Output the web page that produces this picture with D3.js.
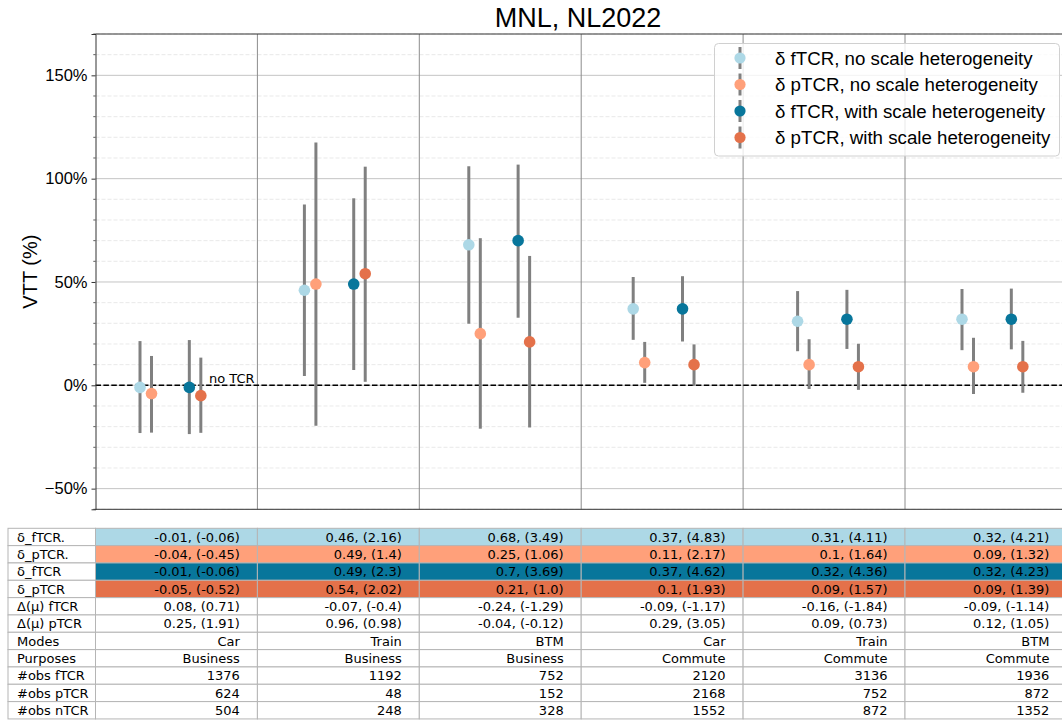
<!DOCTYPE html>
<html>
<head>
<meta charset="utf-8">
<script src="https://cdn.jsdelivr.net/npm/d3@7"></script>
<style>
  body { margin: 0; background: #fff; }
  svg { display: block; }
</style>
</head>
<body>
<svg id="chart" width="1062" height="720"></svg>
<script>
// ---- data ---------------------------------------------------------------
const modes    = ["Car", "Train", "BTM", "Car", "Train", "BTM"];
const purposes = ["Business", "Business", "Business", "Commute", "Commute", "Commute"];

const seriesNames = [
  "δ fTCR, no scale heterogeneity",
  "δ pTCR, no scale heterogeneity",
  "δ fTCR, with scale heterogeneity",
  "δ pTCR, with scale heterogeneity"
];
const seriesColors = ["#add8e6", "#ffa07a", "#08769b", "#e4714a"];
const seriesOffsets = [0, 0.07, 0.3, 0.37];

// estimates and t-values
const deltaFNo   = [-0.01, 0.46, 0.68, 0.37, 0.31, 0.32];
const tFNo       = [-0.06, 2.16, 3.49, 4.83, 4.11, 4.21];
const deltaPNo   = [-0.04, 0.49, 0.25, 0.11, 0.1, 0.09];
const tPNo       = [-0.45, 1.4, 1.06, 2.17, 1.64, 1.32];
const deltaFWith = [-0.01, 0.49, 0.7, 0.37, 0.32, 0.32];
const tFWith     = [-0.06, 2.3, 3.69, 4.62, 4.36, 4.23];
const deltaPWith = [-0.05, 0.54, 0.21, 0.1, 0.09, 0.09];
const tPWith     = [-0.52, 2.02, 1.0, 1.93, 1.57, 1.39];
const dMuF = [0.08, -0.07, -0.24, -0.09, -0.16, -0.09];
const tMuF = [0.71, -0.4, -1.29, -1.17, -1.84, -1.14];
const dMuP = [0.25, 0.96, -0.04, 0.29, 0.09, 0.12];
const tMuP = [1.91, 0.98, -0.12, 3.05, 0.73, 1.05];
const obsF = [1376, 1192, 752, 2120, 3136, 1936];
const obsP = [624, 48, 152, 2168, 752, 872];
const obsN = [504, 248, 328, 1552, 872, 1352];

// 95% interval bounds, in %
const lowFNo    = [-23.1, 4.5, 29.8, 22.0, 16.5, 17.0];
const highFNo   = [21.4, 87.5, 106.0, 52.4, 45.6, 46.6];
const lowPNo    = [-22.9, -19.6, -21.0, 1.2, -1.8, -4.2];
const highPNo   = [14.2, 117.5, 71.2, 21.0, 22.3, 23.0];
const lowFWith  = [-23.6, 7.4, 32.7, 21.2, 17.6, 17.4];
const highFWith = [21.9, 90.5, 106.8, 52.8, 46.2, 46.8];
const lowPWith  = [-23.0, 1.7, -20.4, -0.2, -2.2, -3.6];
const highPWith = [13.4, 105.8, 62.6, 19.8, 20.1, 21.5];

const yTicks = [-50, 0, 50, 100, 150];

// ---- helpers ------------------------------------------------------------
const pyNum = v => Number.isInteger(v) ? v.toFixed(1) : String(v);
const pair = (v, t) => `${pyNum(v)}, (${pyNum(t)})`;

const series = [
  { est: deltaFNo,   low: lowFNo,   high: highFNo },
  { est: deltaPNo,   low: lowPNo,   high: highPNo },
  { est: deltaFWith, low: lowFWith, high: highFWith },
  { est: deltaPWith, low: lowPWith, high: highPWith }
].map((s, k) => ({ ...s, name: seriesNames[k], color: seriesColors[k], off: seriesOffsets[k] }));

// ---- layout -------------------------------------------------------------
const svg = d3.select("#chart");
const W = 1062;
const plotLeft = 95.5, plotRight = 1070, plotTop = 34, plotBottom = 509.3;
const colW = 161.9;

const y = d3.scaleLinear().domain([-60, 170]).range([plotBottom, plotTop]);
const x = d3.scaleLinear().domain([0, 5]).range([140, 962]);
const colEdge = d3.scaleLinear().domain([0, 6]).range([plotLeft, plotLeft + 6 * colW]);

const sans = "'Liberation Sans', Arial, sans-serif";
const dejavu = "'DejaVu Sans', sans-serif";

// title
svg.append("text")
  .attr("x", 578).attr("y", 27)
  .attr("text-anchor", "middle")
  .attr("font-family", sans).attr("font-size", 27)
  .attr("fill", "#000")
  .text("MNL, NL2022");

const plot = svg.append("g");

// minor grid (every 10%)
const minor = d3.range(-60, 171, 10).filter(v => v % 50 !== 0);
plot.selectAll(".gminor").data(minor).join("line")
  .attr("x1", plotLeft).attr("x2", plotRight)
  .attr("y1", d => y(d)).attr("y2", d => y(d))
  .attr("stroke", "#e3e3e3").attr("stroke-width", 0.8)
  .attr("stroke-dasharray", "4,2");

// major grid
plot.selectAll(".gmajor").data(yTicks).join("line")
  .attr("x1", plotLeft).attr("x2", plotRight)
  .attr("y1", d => y(d)).attr("y2", d => y(d))
  .attr("stroke", "#c4c4c4").attr("stroke-width", 1);

// column separators
plot.selectAll(".sep").data(d3.range(1, 6)).join("line")
  .attr("x1", d => colEdge(d)).attr("x2", d => colEdge(d))
  .attr("y1", plotTop).attr("y2", plotBottom)
  .attr("stroke", "#8c8c8c").attr("stroke-width", 1);

// zero reference line
plot.append("line")
  .attr("x1", plotLeft).attr("x2", plotRight)
  .attr("y1", y(0)).attr("y2", y(0))
  .attr("stroke", "#000").attr("stroke-width", 1.5)
  .attr("stroke-dasharray", "5.5,2.4");

plot.append("text")
  .attr("x", 209).attr("y", y(0) - 2.5)
  .attr("font-family", dejavu).attr("font-size", 13)
  .attr("fill", "#000")
  .text("no TCR");

// error bars
series.forEach(s => {
  plot.selectAll(null).data(modes.map((m, i) => i)).join("line")
    .attr("x1", i => x(i + s.off)).attr("x2", i => x(i + s.off))
    .attr("y1", i => y(s.low[i])).attr("y2", i => y(s.high[i]))
    .attr("stroke", "#808080").attr("stroke-width", 3);
});
// markers
series.forEach(s => {
  plot.selectAll(null).data(modes.map((m, i) => i)).join("circle")
    .attr("cx", i => x(i + s.off)).attr("cy", i => y(s.est[i] * 100))
    .attr("r", 5.8)
    .attr("fill", s.color);
});

// spines
svg.append("line").attr("x1", plotLeft).attr("x2", plotRight)
  .attr("y1", plotTop).attr("y2", plotTop).attr("stroke", "#333").attr("stroke-width", 1);
svg.append("line").attr("x1", plotLeft).attr("x2", plotRight)
  .attr("y1", plotBottom).attr("y2", plotBottom).attr("stroke", "#333").attr("stroke-width", 1);

// y axis
const yAxis = d3.axisLeft(y).tickValues(yTicks).tickSize(4).tickPadding(4)
  .tickFormat(d => (d < 0 ? "\u2212" + Math.abs(d) : d) + "%");
const gy = svg.append("g").attr("transform", `translate(${plotLeft},0)`).call(yAxis);
gy.select(".domain").attr("stroke", "#333");
gy.selectAll(".tick line").attr("stroke", "#333");
gy.selectAll(".tick text").attr("font-family", sans).attr("font-size", 16.5).attr("fill", "#000");
svg.append("g").selectAll("line").data(minor).join("line")
  .attr("x1", plotLeft - 2.2).attr("x2", plotLeft)
  .attr("y1", d => y(d)).attr("y2", d => y(d))
  .attr("stroke", "#333").attr("stroke-width", 0.8);

svg.append("text")
  .attr("transform", `translate(37,${(plotTop + plotBottom) / 2}) rotate(-90)`)
  .attr("text-anchor", "middle")
  .attr("font-family", sans).attr("font-size", 20)
  .attr("fill", "#000")
  .text("VTT (%)");

// legend
const lg = svg.append("g");
lg.append("rect")
  .attr("x", 714.5).attr("y", 43.5).attr("width", 345).attr("height", 112.5)
  .attr("rx", 4).attr("fill", "#fff").attr("fill-opacity", 0.8)
  .attr("stroke", "#d0d0d0").attr("stroke-width", 1);
const legRowY = [58, 84.5, 111, 137.5];
series.forEach((s, k) => {
  const cy = legRowY[k];
  lg.append("line").attr("x1", 740).attr("x2", 740)
    .attr("y1", cy - 11).attr("y2", cy + 11)
    .attr("stroke", "#808080").attr("stroke-width", 3);
  lg.append("circle").attr("cx", 740).attr("cy", cy).attr("r", 5.6).attr("fill", s.color);
  lg.append("text").attr("x", 775).attr("y", cy + 6.5)
    .attr("font-family", sans).attr("font-size", 18.7).attr("fill", "#000")
    .text(s.name);
});

// ---- table --------------------------------------------------------------
const rows = [
  { label: "δ_fTCR.",    cells: deltaFNo.map((v, i) => pair(v, tFNo[i])),     bg: seriesColors[0] },
  { label: "δ_pTCR.",    cells: deltaPNo.map((v, i) => pair(v, tPNo[i])),     bg: seriesColors[1] },
  { label: "δ_fTCR",     cells: deltaFWith.map((v, i) => pair(v, tFWith[i])), bg: seriesColors[2] },
  { label: "δ_pTCR",     cells: deltaPWith.map((v, i) => pair(v, tPWith[i])), bg: seriesColors[3] },
  { label: "Δ(μ) fTCR",  cells: dMuF.map((v, i) => pair(v, tMuF[i])),         bg: "#fff" },
  { label: "Δ(μ) pTCR",  cells: dMuP.map((v, i) => pair(v, tMuP[i])),         bg: "#fff" },
  { label: "Modes",      cells: modes,                                        bg: "#fff" },
  { label: "Purposes",   cells: purposes,                                     bg: "#fff" },
  { label: "#obs fTCR",  cells: obsF.map(String),                             bg: "#fff" },
  { label: "#obs pTCR",  cells: obsP.map(String),                             bg: "#fff" },
  { label: "#obs nTCR",  cells: obsN.map(String),                             bg: "#fff" }
];
const tableTop = 528.3, rowH = 17.33, tableLeft = 8;
const rowY = d3.scaleLinear().domain([0, rows.length]).range([tableTop, tableTop + rows.length * rowH]);
const tg = svg.append("g");
rows.forEach((r, ri) => {
  const y0 = rowY(ri);
  tg.append("rect").attr("x", tableLeft).attr("y", y0)
    .attr("width", plotLeft - tableLeft).attr("height", rowH)
    .attr("fill", "#fff").attr("stroke", "#b5b5b5").attr("stroke-width", 1);
  tg.append("text").attr("x", tableLeft + 9).attr("y", y0 + rowH / 2 + 4.7)
    .attr("font-family", dejavu).attr("font-size", 13).attr("fill", "#000")
    .text(r.label);
  r.cells.forEach((c, ci) => {
    tg.append("rect").attr("x", colEdge(ci)).attr("y", y0)
      .attr("width", colW).attr("height", rowH)
      .attr("fill", r.bg).attr("stroke", "#b5b5b5").attr("stroke-width", 1);
    tg.append("text").attr("x", colEdge(ci + 1) - 17.5).attr("y", y0 + rowH / 2 + 4.7)
      .attr("text-anchor", "end")
      .attr("font-family", dejavu).attr("font-size", 13).attr("fill", "#000")
      .text(c);
  });
});
</script>
</body>
</html>
